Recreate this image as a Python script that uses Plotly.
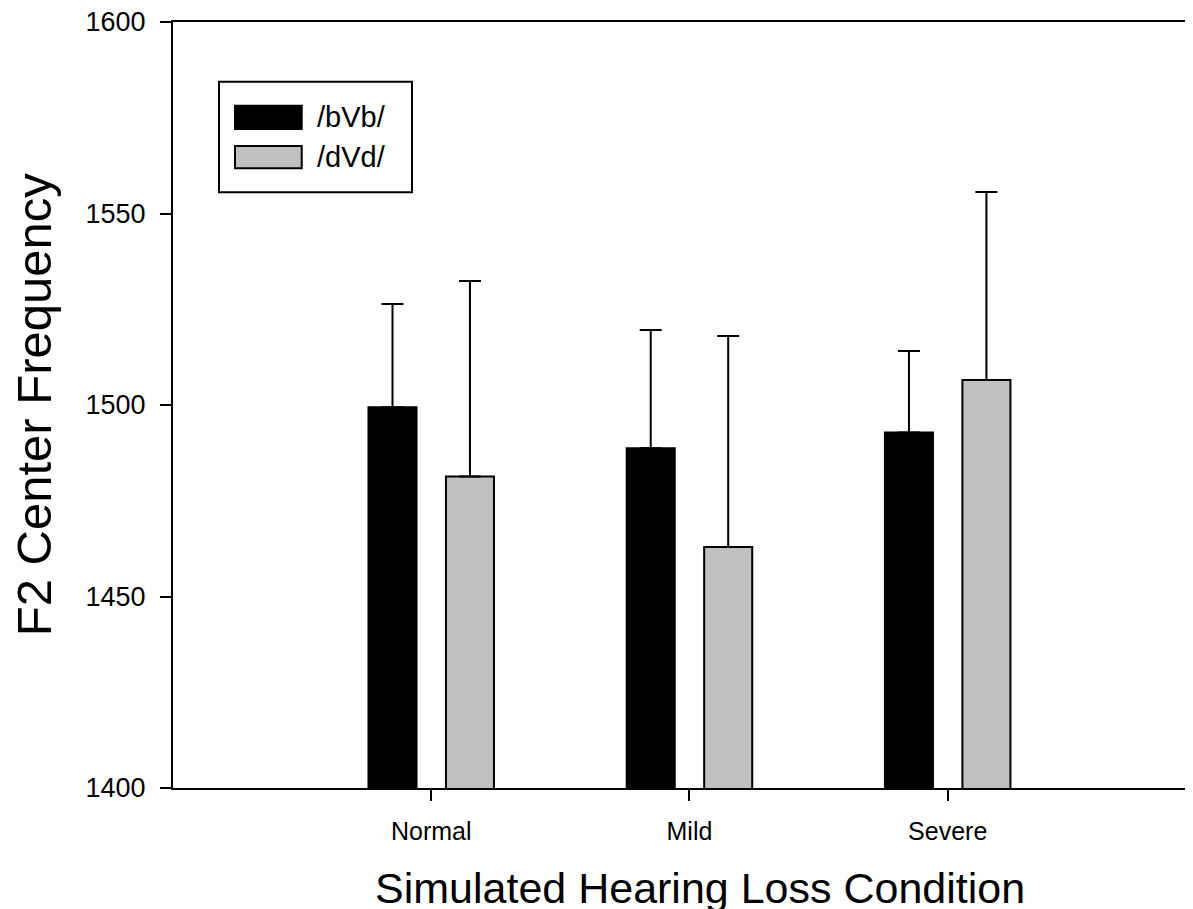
import plotly.graph_objects as go

categories = ["Normal", "Mild", "Severe"]
series_names = ["/bVb/", "/dVd/"]
bvb_values = [1499.4, 1488.7, 1492.8]
bvb_errors = [27.0, 30.9, 21.3]
dvd_values = [1481.3, 1462.9, 1506.5]
dvd_errors = [51.1, 55.1, 49.1]
y_ticks = [1400, 1450, 1500, 1550, 1600]

FONT = "Liberation Sans, Arial, sans-serif"
colors = ["#000000", "#c0c0c0"]

fig = go.Figure()
for name, vals, errs, col in zip(series_names, [bvb_values, dvd_values],
                                 [bvb_errors, dvd_errors], colors):
    fig.add_trace(go.Bar(
        x=categories, y=vals, name=name,
        marker=dict(color=col, line=dict(color="#000000", width=2)),
        error_y=dict(type="data", array=errs, arrayminus=[0] * len(errs),
                     symmetric=False, color="#000000", thickness=2, width=11),
        showlegend=False,
    ))

# page body has an 8px margin, so the figure is sized/offset to compensate
fig.update_layout(
    width=1185, height=901,
    margin=dict(l=165, r=0, t=14, b=121),
    paper_bgcolor="white", plot_bgcolor="white",
    barmode="group", bargap=0.4, bargroupgap=0.38,
    font=dict(family=FONT, color="black"),
    xaxis=dict(
        type="category", range=[-1, 2.95],
        showline=True, linecolor="black", linewidth=2, mirror=True,
        ticks="outside", ticklen=11, tickwidth=2, tickcolor="black",
        ticklabelstandoff=9,
        tickfont=dict(size=25, family=FONT), showgrid=False, zeroline=False,
    ),
    yaxis=dict(
        range=[1400, 1600], tickvals=y_ticks,
        showline=True, linecolor="black", linewidth=2,
        ticks="outside", ticklen=11, tickwidth=2, tickcolor="black",
        ticklabelstandoff=9, ticklabeloverflow="allow",
        tickfont=dict(size=27, family=FONT), showgrid=False, zeroline=False,
    ),
)

# axis titles
fig.add_annotation(text="F2 Center Frequency", xref="paper", yref="paper",
                   x=-0.136, y=0.5, xanchor="center", yanchor="middle",
                   textangle=-90, showarrow=False, font=dict(size=49, family=FONT))
fig.add_annotation(text="Simulated Hearing Loss Condition", xref="paper", yref="paper",
                   x=0.517, y=-0.13, xanchor="center", yanchor="middle",
                   showarrow=False, font=dict(size=43, family=FONT))

# legend box
fig.add_shape(type="rect", xref="paper", yref="paper",
              x0=0.0451, x1=0.2343, y0=0.7777, y1=0.9221,
              line=dict(color="black", width=2), fillcolor="white")
sw_y = [(0.8603, 0.8907), (0.8090, 0.8381)]
txt_y = [0.876, 0.8238]
for name, col, (y0, y1), ty in zip(series_names, colors, sw_y, txt_y):
    fig.add_shape(type="rect", xref="paper", yref="paper",
                  x0=0.0608, x1=0.1262, y0=y0, y1=y1,
                  line=dict(color="black", width=2), fillcolor=col)
    fig.add_annotation(text=name, xref="paper", yref="paper", x=0.139, y=ty,
                       xanchor="left", yanchor="middle", showarrow=False,
                       font=dict(size=29, family=FONT))

fig.write_html("out.html")
